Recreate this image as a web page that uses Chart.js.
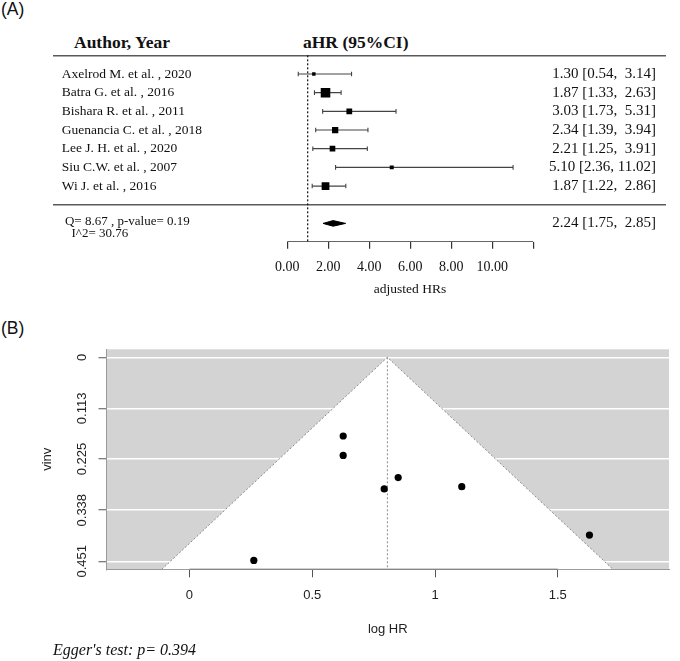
<!DOCTYPE html>
<html>
<head>
<meta charset="utf-8">
<script src="https://cdn.jsdelivr.net/npm/chart.js@4.4.1/dist/chart.umd.min.js"></script>
<style>
  html, body { margin: 0; padding: 0; background: #fff; overflow: hidden; }
  #page { position: relative; width: 680px; height: 661px; }
  .box { position: absolute; }
  .txt { position: absolute; white-space: pre; line-height: 20px; height: 20px; color: #111; }
  .serif { font-family: "Liberation Serif", "Times New Roman", serif; }
  .sans { font-family: "Liberation Sans", Arial, sans-serif; }
</style>
</head>
<body>
<div id="page">
  <div class="txt sans" style="left:1px; top:-1px; font-size:17.5px;">(A)</div>
  <div class="txt serif" style="left:74px; top:32.4px; font-size:17.5px; font-weight:bold;">Author, Year</div>
  <div class="txt serif" style="left:303px; top:32.4px; font-size:17.5px; font-weight:bold;">aHR (95%CI)</div>
  <div class="box" style="left:0; top:0; width:680px; height:300px;"><canvas id="forest"></canvas></div>
  <div class="txt serif" style="left:310px; width:200px; text-align:center; top:279.2px; font-size:13.5px;">adjusted HRs</div>

  <div class="txt sans" style="left:1px; top:318.4px; font-size:17.5px;">(B)</div>
  <div class="box" style="left:0; top:300px; width:680px; height:361px;"><canvas id="funnel"></canvas></div>
  <div class="txt serif" style="left:53px; top:640px; font-size:16px; font-style:italic;">Egger's test: p= 0.394</div>
</div>

<script>
// ---- panel A data (forest plot) ----
const studies = [
  "Axelrod M. et al. , 2020",
  "Batra G. et al. , 2016",
  "Bishara R. et al. , 2011",
  "Guenancia C. et al. , 2018",
  "Lee J. H. et al. , 2020",
  "Siu C.W. et al. , 2007",
  "Wi J. et al. , 2016",
];
const hr = [1.30, 1.87, 3.03, 2.34, 2.21, 5.10, 1.87];
const hrLow = [0.54, 1.33, 1.73, 1.39, 1.25, 2.36, 1.22];
const hrHigh = [3.14, 2.63, 5.31, 3.94, 3.91, 11.02, 2.86];
const weights = [6.5, 24.6, 13.4, 14.9, 13.1, 8.2, 19.2]; // % weight, sets box size
const pooled = { est: 2.24, low: 1.75, high: 2.85 };
const hetText = ["Q= 8.67 , p-value= 0.19", "I^2= 30.76"];
const hrTicks = [0, 2, 4, 6, 8, 10, 12];

// ---- panel B data (funnel plot) ----
const logHR = [0.262, 0.626, 1.109, 0.850, 0.793, 1.629, 0.626];
const seHR = [0.449, 0.174, 0.286, 0.266, 0.291, 0.393, 0.217];
const funnelX = [-0.113, 0.806, 1.725];
const funnelY = [0.469, 0, 0.469];
const seTicks = [0, 0.113, 0.225, 0.338, 0.451];
const logTicks = [0, 0.5, 1, 1.5];

Chart.defaults.font.family = "'Liberation Serif', 'Times New Roman', serif";
Chart.defaults.animation = false;

const fmt = (e, l, h) => e.toFixed(2) + " [" + l.toFixed(2) + ", " + h.toFixed(2).padStart(5, " ") + "]";

// rows: 0 = top rule, 1..n = studies, n+1 = lower rule, n+2 = summary
const nStudy = studies.length;
const ruleRows = [0, nStudy + 1];
const sumRow = nStudy + 2;
const qRow = sumRow - 0.1;
const i2Row = sumRow + 0.55;
const yTopA = -1.5, yBotA = sumRow + 0.98;

const leftRows = [0, ...studies.map((s, i) => i + 1), nStudy + 1, qRow, i2Row];
const rightRows = [...studies.map((s, i) => i + 1), sumRow];

function leftLabel(v) {
  if (v >= 1 && v <= nStudy && Number.isInteger(v)) return studies[v - 1];
  if (v === qRow) return " " + hetText[0];
  if (v === i2Row) return "   " + hetText[1];
  return "";
}
function rightLabel(v) {
  if (v >= 1 && v <= nStudy) return fmt(hr[v - 1], hrLow[v - 1], hrHigh[v - 1]);
  if (v === sumRow) return fmt(pooled.est, pooled.low, pooled.high);
  return "";
}

const ciSets = studies.map((s, i) => ({
  data: [{ x: hrLow[i], y: i + 1 }, { x: hrHigh[i], y: i + 1 }],
  showLine: true, borderColor: "#444", borderWidth: 1.2, pointRadius: 0, order: 3,
}));

const capPts = [];
studies.forEach((s, i) => {
  capPts.push({ x: hrLow[i], y: i + 1 });
  capPts.push({ x: hrHigh[i], y: i + 1 });
});

const dh = 0.15;
new Chart(document.getElementById("forest"), {
  type: "scatter",
  data: {
    datasets: [
      // boxes
      {
        data: hr.map((v, i) => ({ x: v, y: i + 1 })),
        pointStyle: "rect",
        pointRadius: weights.map(w => (1.2 + 0.34 * w) / Math.SQRT2),
        backgroundColor: "#000", borderWidth: 0, order: 1,
      },
      // pooled diamond
      {
        data: [
          { x: pooled.low, y: sumRow }, { x: pooled.est, y: sumRow - dh },
          { x: pooled.high, y: sumRow }, { x: pooled.est, y: sumRow + dh },
          { x: pooled.low, y: sumRow },
        ],
        showLine: true, fill: "shape", backgroundColor: "#000", borderColor: "#000",
        borderWidth: 1, pointRadius: 0, order: 1,
      },
      // whisker caps
      {
        data: capPts, pointStyle: "line", rotation: 90, pointRadius: 2.3,
        borderColor: "#444", borderWidth: 1.1, order: 2,
      },
      ...ciSets,
      // reference line at HR = 1
      {
        data: [{ x: 1, y: 0 }, { x: 1, y: yBotA }],
        showLine: true, borderColor: "#111", borderWidth: 1.2, borderDash: [2, 2],
        pointRadius: 0, order: 4,
      },
      // x axis line
      {
        data: [{ x: hrTicks[0], y: yBotA }, { x: hrTicks[hrTicks.length - 1], y: yBotA }],
        showLine: true, borderColor: "#333", borderWidth: 1.4, pointRadius: 0, order: 4,
      },
    ],
  },
  options: {
    responsive: true, maintainAspectRatio: false, events: [],
    layout: { padding: { left: 53.3, right: 14, top: 27.3, bottom: 18.3 } },
    plugins: { legend: { display: false }, tooltip: { enabled: false } },
    scales: {
      x: {
        min: -11.41, max: 18.48,
        afterBuildTicks: s => { s.ticks = hrTicks.map(v => ({ value: v })); },
        afterFit: s => { s.height = 40; },
        grid: { drawOnChartArea: false, drawTicks: true, tickLength: 7, color: "#333", lineWidth: 1.2 },
        border: { display: false },
        ticks: {
          autoSkip: false, maxRotation: 0, padding: 10, color: "#111",
          font: { size: 14 },
          callback: v => (v < hrTicks[hrTicks.length - 1] ? v.toFixed(2) : ""),
        },
      },
      y: {
        position: "left", reverse: true, min: yTopA, max: yBotA,
        afterBuildTicks: s => { s.ticks = leftRows.map(v => ({ value: v })); },
        afterFit: s => { s.width = 0; },
        grid: {
          drawTicks: false, lineWidth: 1.6,
          color: c => (c.tick && ruleRows.includes(c.tick.value) ? "#5a5a5a" : "rgba(0,0,0,0)"),
        },
        border: { display: false },
        ticks: {
          mirror: true, padding: 8.4, autoSkip: false, color: "#111",
          font: c => ({ size: c.tick && c.tick.value > nStudy + 1 ? 13 : 13.5 }),
          callback: v => leftLabel(v),
        },
      },
      y2: {
        position: "right", reverse: true, min: yTopA, max: yBotA,
        afterBuildTicks: s => { s.ticks = rightRows.map(v => ({ value: v })); },
        afterFit: s => { s.width = 0; },
        grid: { display: false },
        border: { display: false },
        ticks: {
          mirror: true, padding: -10, autoSkip: false, color: "#111",
          font: { size: 15 },
          callback: v => rightLabel(v),
        },
      },
    },
  },
});

// ---- panel B ----
const plotBg = {
  id: "plotBg",
  beforeDraw(chart, args, opts) {
    const { ctx, chartArea: a } = chart;
    ctx.save();
    ctx.fillStyle = opts.color;
    ctx.fillRect(a.left, a.top, a.width, a.height);
    ctx.restore();
  },
};

const sansFont = { family: "'Liberation Sans', Arial, sans-serif", size: 13 };
const yMinB = -0.0177, yMaxB = 0.4687;

new Chart(document.getElementById("funnel"), {
  type: "scatter",
  plugins: [plotBg],
  data: {
    datasets: [
      {
        data: logHR.map((v, i) => ({ x: v, y: seHR[i] })),
        pointStyle: "circle", pointRadius: 3.6, backgroundColor: "#000", borderWidth: 0, order: 1,
      },
      // axis line under the ticks
      {
        data: [{ x: logTicks[0], y: yMaxB }, { x: logTicks[logTicks.length - 1], y: yMaxB }],
        showLine: true, borderColor: "#444", borderWidth: 1.3, pointRadius: 0, order: 1,
      },
      // centre line
      {
        data: [{ x: funnelX[1], y: funnelY[1] }, { x: funnelX[1], y: funnelY[0] }],
        showLine: true, borderColor: "#8a8a8a", borderWidth: 1, borderDash: [2, 2], pointRadius: 0, order: 2,
      },
      // funnel
      {
        data: funnelX.map((x, i) => ({ x: x, y: funnelY[i] })),
        showLine: true, borderColor: "#8a8a8a", borderWidth: 1, borderDash: [2, 2], pointRadius: 0,
        backgroundColor: "#fff", fill: { value: funnelY[0] }, order: 3,
      },
    ],
  },
  options: {
    responsive: true, maintainAspectRatio: false, events: [],
    layout: { padding: { left: 40, right: 11, top: 49.3, bottom: 24.2 } },
    plugins: { legend: { display: false }, tooltip: { enabled: false }, plotBg: { color: "#d3d3d3" } },
    scales: {
      x: {
        min: -0.338, max: 1.953,
        afterBuildTicks: s => { s.ticks = logTicks.map(v => ({ value: v })); },
        afterFit: s => { s.height = 67.5; },
        grid: { drawOnChartArea: false, drawTicks: true, tickLength: 8, color: "#555", lineWidth: 1 },
        border: { display: true, color: "#9a9a9a", width: 1 },
        ticks: { autoSkip: false, maxRotation: 0, padding: 10, color: "#222", font: sansFont, callback: v => String(v) },
        title: { display: true, text: "log HR", color: "#222", font: sansFont, padding: { top: 0, bottom: 0 } },
      },
      y: {
        reverse: true, min: yMinB, max: yMaxB,
        afterBuildTicks: s => { s.ticks = seTicks.map(v => ({ value: v })); },
        afterFit: s => { s.width = 66.5; },
        grid: { color: "#fff", lineWidth: 1.5, drawTicks: true, tickLength: 8, tickColor: "#555", tickWidth: 1 },
        border: { display: true, color: "#9a9a9a", width: 1 },
        ticks: {
          autoSkip: false, minRotation: 90, maxRotation: 90, crossAlign: "center", padding: 0,
          color: "#222", font: sansFont, callback: v => String(v),
        },
        title: { display: true, text: "vinv", color: "#222", font: sansFont, padding: { top: 0, bottom: 0 } },
      },
    },
  },
});
</script>
</body>
</html>
